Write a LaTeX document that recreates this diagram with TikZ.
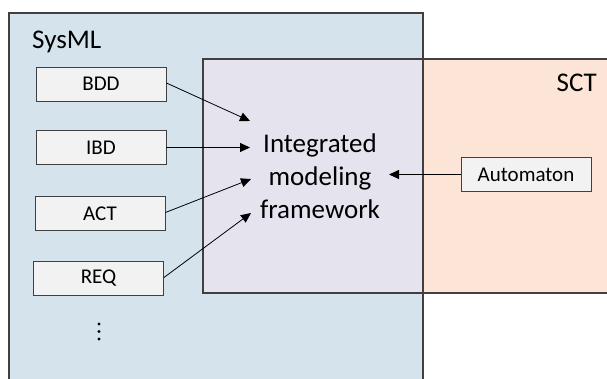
\documentclass[tikz,border=0pt]{standalone}
\usepackage{fontspec}
\setmainfont{Carlito}
\usetikzlibrary{arrows.meta}
\definecolor{sysfill}{HTML}{D5E4EC}
\definecolor{sctfill}{HTML}{FCE5D6}
\definecolor{ovfill}{HTML}{E5E3EE}
\definecolor{boxfill}{HTML}{F2F2F2}
\definecolor{edge}{HTML}{404040}
\tikzset{
  diag/.style={draw=edge, line width=0.9pt, fill=boxfill, minimum width=130pt, minimum height=34pt, inner sep=0pt, font=\fontsize{21}{25}\selectfont},
  region/.style={draw=edge, line width=1.2pt},
  conn/.style={draw=black, line width=0.8pt, -{Triangle[length=10pt,width=9pt]}},
  big/.style={font=\fontsize{27}{33}\selectfont},
  dot/.style={circle, fill=black, inner sep=0pt, minimum size=3.4pt}
}
\begin{document}
\begin{tikzpicture}[x=1pt,y=-1pt]
\useasboundingbox (0,0) rectangle (607,379);
\clip (0,0) rectangle (607,379);
% fills
\fill[sysfill] (9,13) rectangle (423,400);
\fill[sctfill] (203,59) rectangle (620,293);
\fill[ovfill] (203,59) rectangle (423,293);
% borders
\draw[region] (9,400) -- (9,13) -- (423,13) -- (423,400);
\draw[region] (620,59) -- (203,59) -- (203,293) -- (620,293);
% titles
\node[big, anchor=base west, inner sep=0pt] (sysml) at (32,49) {SysML};
\node[big, anchor=base east, inner sep=0pt] (sct) at (597,92) {SCT};
% integrated framework
\node[big, align=center, inner sep=0pt] (fw) at (320,176) {Integrated\\modeling\\framework};
% boxes
\node[diag] (bdd) at (101,84) {BDD};
\node[diag] (ibd) at (101,147.5) {IBD};
\node[diag] (act) at (100,213.5) {ACT};
\node[diag] (req) at (98.5,278.5) {REQ};
\node[diag, minimum width=130pt] (aut) at (526,174.5) {Automaton};
% vertical ellipsis
\node[dot] (d1) at (99,324) {};
\node[dot] (d2) at (99,331.5) {};
\node[dot] (d3) at (99,339) {};
% arrow tips
\coordinate (t1) at (250,121);
\coordinate (t2) at (250,147.5);
\coordinate (t3) at (251,179);
\coordinate (t4) at (251,213);
\coordinate (t5) at (389,174.5);
\draw[conn] (bdd.east) ++(0,-1) -- (t1);
\draw[conn] (ibd.east) -- (t2);
\draw[conn] (act.east) ++(0,-1) -- (t3);
\draw[conn] (req.east) ++(0,-1) -- (t4);
\draw[conn] (aut.west) -- (t5);
\end{tikzpicture}
\end{document}
